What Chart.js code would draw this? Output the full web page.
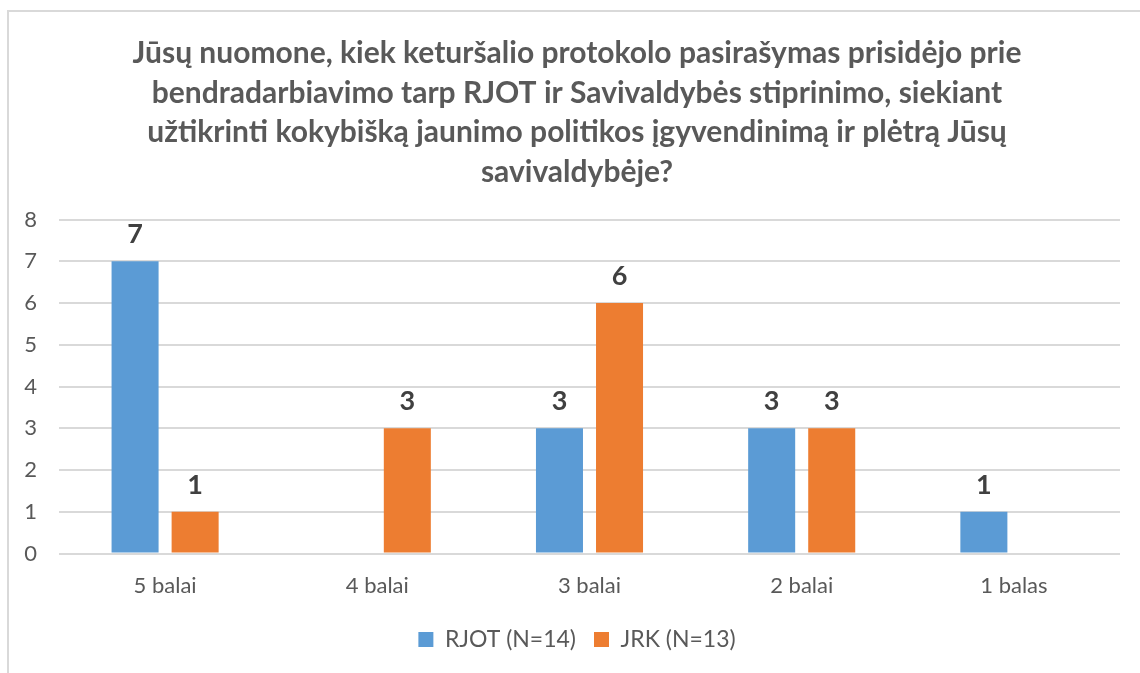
<!DOCTYPE html>
<html>
<head>
<meta charset="utf-8">
<script src="https://cdn.jsdelivr.net/npm/chart.js@4"></script>
<style>
  body { margin: 0; background: #fff; }
  #frame { position: absolute; left: 7px; top: 10px; width: 1200px; height: 700px; border: 2px solid #d9d9d9; box-sizing: border-box; }
  #chart { position: absolute; left: 0; top: 0; }
</style>
</head>
<body>
<div id="frame"></div>
<canvas id="chart" width="1140" height="673"></canvas>
<script>
const categories = ["5 balai", "4 balai", "3 balai", "2 balai", "1 balas"];
const rjot = [7, 0, 3, 3, 1];
const jrk = [1, 3, 6, 3, 0];
const titleLines = [
  "Jūsų nuomone, kiek keturšalio protokolo pasirašymas prisidėjo prie",
  "bendradarbiavimo tarp RJOT ir Savivaldybės stiprinimo, siekiant",
  "užtikrinti kokybišką jaunimo politikos įgyvendinimą ir plėtrą Jūsų",
  "savivaldybėje?"
];

const FONT = "Lato, 'Open Sans', sans-serif";
const ctx = document.querySelector("#chart").getContext("2d");

// draws the bold value above each non-zero bar
const valueLabels = {
  id: "valueLabels",
  afterDatasetsDraw(chart) {
    const c = chart.ctx;
    c.save();
    c.font = "bold 27px " + FONT;
    c.fillStyle = "#404040";
    c.textAlign = "center";
    c.textBaseline = "middle";
    chart.data.datasets.forEach((ds, i) => {
      chart.getDatasetMeta(i).data.forEach((bar, j) => {
        if (ds.data[j] > 0) c.fillText(ds.data[j], bar.x, bar.y - 27);
      });
    });
    c.restore();
  },
};

const myChart = new Chart(ctx, {
  type: "bar",
  data: {
    labels: categories,
    datasets: [
      { label: "RJOT (N=14)", data: rjot, backgroundColor: "#5b9bd5" },
      { label: "JRK (N=13)", data: jrk, backgroundColor: "#ed7d31" },
    ],
  },
  options: {
    responsive: false,
    animation: false,
    categoryPercentage: 0.566,
    barPercentage: 0.783,
    layout: { padding: { left: 14, right: 0, top: 33, bottom: 12 } },
    plugins: {
      title: {
        display: true,
        text: titleLines,
        color: "#595959",
        font: { family: FONT, size: 30, weight: "bold", lineHeight: 1.33 },
        padding: { top: 0, bottom: 27 },
      },
      legend: {
        position: "bottom",
        labels: {
          color: "#595959",
          font: { family: FONT, size: 23 },
          boxWidth: 15,
          boxHeight: 15,
          padding: 18,
        },
      },
      tooltip: { enabled: false },
    },
    scales: {
      x: {
        grid: { display: false },
        border: { display: false },
        ticks: { color: "#595959", font: { family: FONT, size: 22 }, padding: 11 },
      },
      y: {
        min: 0,
        max: 8,
        ticks: { stepSize: 1, color: "#595959", font: { family: FONT, size: 22 }, padding: 22 },
        grid: { color: "#d9d9d9", lineWidth: 2, drawTicks: false },
        border: { display: false },
        afterFit(scale) { scale.width = 45; },
      },
      // empty right axis, only reserves space so the title stays centred like the original
      yRight: {
        position: "right",
        grid: { display: false },
        ticks: { display: false },
        border: { display: false },
        afterFit(scale) { scale.width = 20; },
      },
    },
  },
  plugins: [valueLabels],
});
</script>
</body>
</html>
